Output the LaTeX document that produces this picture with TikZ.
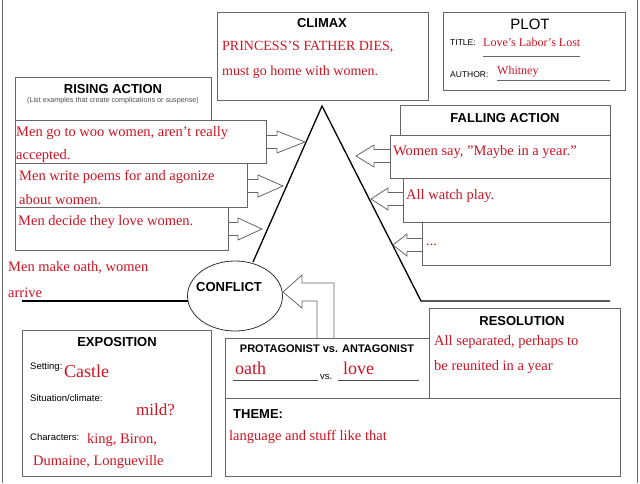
\documentclass[tikz,border=0pt]{standalone}
\usepackage{fontspec}
\usetikzlibrary{shapes.geometric}
\setmainfont{Liberation Serif}
\setsansfont{Liberation Sans}
\begin{document}
\begin{tikzpicture}[x=1pt,y=-1pt,
  box/.style={draw=black!60,line width=0.8pt},
  hd/.style={font=\sffamily\bfseries\fontsize{13}{14}\selectfont},
  sm/.style={font=\sffamily\fontsize{9.5}{10}\selectfont,anchor=west,inner sep=0pt},
  rd/.style={text=myred,font=\fontsize{14.5}{15}\selectfont,anchor=west,inner sep=0pt},
  arr/.style={draw=black!60,line width=0.8pt,fill=white},
  mline/.style={line width=1.3pt,black}]
\definecolor{myred}{RGB}{205,20,35}
\useasboundingbox (0,0) rectangle (640,483);
\draw[black!60,line width=1pt] (2,0) -- (2,483) (637,0) -- (637,483);
% block arrows
\newcommand{\rarr}[4]{\draw[arr] (#1,#4-6.5) -- (#2,#4-6.5) -- (#2,#4-11) -- (#3,#4) -- (#2,#4+11) -- (#2,#4+6.5) -- (#1,#4+6.5);}
% triangle
\draw[mline] (22,301) -- (191,301);
\draw[mline] (253,262) -- (322,106) -- (421,301) -- (610,301);
% climax
\node[box,minimum width=211pt,minimum height=88pt,anchor=north west] (climax) at (217,12) {};
\node[hd] (climaxh) at (322,23) {CLIMAX};
\node[rd,font=\fontsize{14}{15}\selectfont] (c1) at (222,47) {PRINCESS'S FATHER DIES,};
\node[rd,font=\fontsize{14}{15}\selectfont] (c2) at (222,72) {must go home with women.};
% plot
\node[box,minimum width=182pt,minimum height=78pt,anchor=north west] (plot) at (443,12) {};
\node[font=\sffamily\fontsize{15}{16}\selectfont] (ploth) at (530,24) {PLOT};
\node[sm,font=\sffamily\fontsize{8.5}{9}\selectfont] (title) at (450,43) {TITLE:};
\node[rd,font=\fontsize{12}{13}\selectfont] (tv) at (483,42) {Love's Labor's Lost};
\coordinate (t1) at (483,56); \coordinate (t2) at (580,56);
\draw[black!60] (t1) -- (t2);
\node[sm,font=\sffamily\fontsize{8.5}{9}\selectfont] (author) at (450,75) {AUTHOR:};
\node[rd,font=\fontsize{12}{13}\selectfont] (av) at (497,72) {Whitney};
\coordinate (a1) at (497,80); \coordinate (a2) at (610,80);
\draw[black!60] (a1) -- (a2);
% rising action
\node[box,minimum width=196pt,minimum height=43pt,anchor=north west] (rah) at (15,77) {};
\node[hd] (rahl) at (113,89) {RISING ACTION};
\node[font=\sffamily\fontsize{7.2}{8}\selectfont,text=black!70] (rahs) at (113,101) {(List examples that create complications or suspense)};
\rarr{266}{277}{305}{142}
\rarr{247}{258}{283}{186}
\rarr{228}{238}{262}{229}
\node[box,minimum width=251pt,minimum height=43pt,anchor=north west] (r1) at (15,120) {};
\node[box,minimum width=232pt,minimum height=44pt,anchor=north west] (r2) at (15,163) {};
\node[box,minimum width=213pt,minimum height=43pt,anchor=north west] (r3) at (15,207) {};
\node[rd] (r1a) at (16,133) {Men go to woo women, aren't really};
\node[rd] (r1b) at (16,156) {accepted.};
\node[rd] (r2a) at (19,177) {Men write poems for and agonize};
\node[rd] (r2b) at (19,200) {about women.};
\node[rd] (r3a) at (18,222) {Men decide they love women.};
\node[rd] (mo1) at (8,268) {Men make oath, women};
\node[rd] (mo2) at (8,293) {arrive};
% falling action
\node[box,minimum width=210pt,minimum height=30pt,anchor=north west] (fah) at (400,105) {};
\node[hd] (fahl) at (505,118) {FALLING ACTION};
\rarr{390}{374}{356}{156}
\rarr{403}{388}{371}{199}
\rarr{422}{407}{393}{245}
\node[box,minimum width=220pt,minimum height=43pt,anchor=north west] (f1) at (390,135) {};
\node[box,minimum width=207pt,minimum height=44pt,anchor=north west] (f2) at (403,178) {};
\node[box,minimum width=188pt,minimum height=43pt,anchor=north west] (f3) at (422,222) {};
\node[rd] (f1t) at (393,152) {Women say, "Maybe in a year."};
\node[rd] (f2t) at (406,196) {All watch play.};
\node[rd] (f3t) at (426,245) {...};
% conflict
\node[draw=black!80,line width=0.8pt,ellipse,minimum width=95pt,minimum height=70pt,fill=white] (conf) at (235,296) {};
\node[hd] (confl) at (229,287) {CONFLICT};
\draw[arr] (334,338) -- (334,283) -- (302,283) -- (302,275) -- (283,292) -- (302,308) -- (302,301) -- (317,301) -- (317,338);
% exposition
\node[box,minimum width=189pt,minimum height=146pt,anchor=north west] (expo) at (22,330) {};
\node[hd] (expol) at (117,342) {EXPOSITION};
\node[sm] (set) at (30,367) {Setting:};
\node[rd,font=\fontsize{18}{19}\selectfont] (setv) at (64,371) {Castle};
\node[sm] (sit) at (30,398) {Situation/climate:};
\node[rd,font=\fontsize{17}{18}\selectfont] (sitv) at (136,410) {mild?};
\node[sm] (cha) at (30,437) {Characters:};
\node[rd] (ch1) at (87,440) {king, Biron,};
\node[rd] (ch2) at (33,462) {Dumaine, Longueville};
% protagonist / theme
\node[box,minimum width=204pt,minimum height=60pt,anchor=north west,fill=white] (prot) at (225,338) {};
\node[hd,font=\sffamily\bfseries\fontsize{11}{12}\selectfont] (protl) at (327,349) {PROTAGONIST vs. ANTAGONIST};
\node[rd,font=\fontsize{18}{19}\selectfont] (oath) at (235,368) {oath};
\node[rd,font=\fontsize{18}{19}\selectfont] (love) at (343,368) {love};
\node[sm] (vs) at (320,377) {vs.};
\coordinate (o1) at (233,380); \coordinate (o2) at (318,380);
\coordinate (l1) at (338,380); \coordinate (l2) at (419,380);
\draw[black!70] (o1) -- (o2) (l1) -- (l2);
\node[box,minimum width=395pt,minimum height=78pt,anchor=north west] (theme) at (225,398) {};
\node[hd,anchor=west,inner sep=0pt] (themel) at (233,414) {THEME:};
\node[rd] (themev) at (229,437) {language and stuff like that};
% resolution
\node[box,minimum width=191pt,minimum height=90pt,anchor=north west] (res) at (429,308) {};
\node[hd] (resl) at (522,321) {RESOLUTION};
\node[rd] (res1) at (434,342) {All separated, perhaps to};
\node[rd] (res2) at (434,367) {be reunited in a year};
\end{tikzpicture}
\end{document}
